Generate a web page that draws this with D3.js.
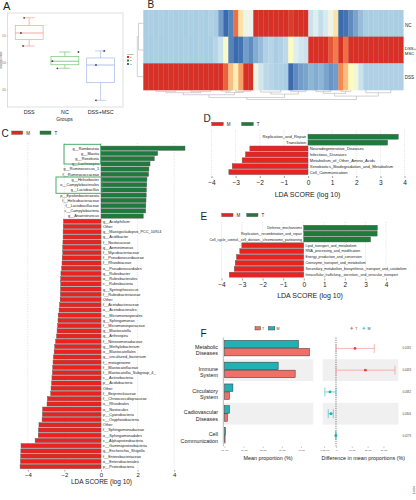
<!DOCTYPE html>
<html><head><meta charset="utf-8">
<script src="https://cdn.jsdelivr.net/npm/d3@7"></script>
<style>body{margin:0;background:#fff}svg{display:block;font-family:"Liberation Sans",Arial,sans-serif}</style>
</head><body><svg id="c" width="416" height="500"></svg>
<script>
// ================= DATA =================
// Panel A – alpha diversity per group
const groupsA = ["DSS","NC","DSS+MSC"];
const alphaDSS = [5.83, 5.55, 5.31];
const alphaNC  = [5.20, 5.03, 4.90];
const alphaMSC = [5.22, 4.96, 4.31];
const jitterA  = [[-0.14,-0.23,-0.17],[0.38,-0.35,-0.21],[0.10,-0.13,-0.13]];
const alphaTicks = [5.5, 5.0, 4.5];

// Panel B – heatmap (z-scores per feature column)
const rowsB = ["NC","DSS+MSC","DSS"];
const heatNC = [-0.55,-0.52,-0.55,-0.53,-0.55,-0.52,-0.55,-0.54,-0.55,-0.52,-0.55,-0.53,-0.55,-0.5,-0.55,
  -0.85,-1.15,-1.0,0.75,0.3,0.0,-0.05,1.0,1.15,1.15,1.15,1.15,1.15,1.15,0.95,1.05,1.15,1.15,
  -0.3,-0.15,-0.35,-0.2,0.0,0.3,-1.15,-1.1,-0.95,-0.8,-0.65,-0.55,-0.55,-0.52,-0.55,-0.55,-0.53,-0.55,-0.55];
const heatMSC = [-0.55,-0.55,-0.53,-0.55,-0.55,-0.52,-0.55,-0.55,-0.53,-0.55,-0.55,-0.52,-0.55,-0.55,-0.45,
  -0.3,0.15,-1.0,-1.15,-1.1,-0.85,-0.95,-0.75,-0.65,-0.5,-0.45,-0.55,-0.5,-0.4,0.2,-0.15,-0.25,-0.3,
  1.15,1.15,1.1,1.0,0.85,0.7,1.05,0.75,1.1,1.15,1.15,1.15,1.15,1.15,1.15,1.15,1.15,1.15,1.15];
const heatDSS = [1.15,1.15,1.15,1.15,1.15,1.15,1.15,1.15,1.15,1.15,1.15,1.15,1.15,1.15,1.15,
  1.05,0.8,0.45,0.25,0.55,1.15,1.15,0.0,-0.25,-0.4,-0.45,-0.5,-0.5,-0.55,-1.15,-0.95,-0.85,-0.8,
  -0.7,-0.75,-0.7,-0.8,-0.9,-0.85,0.65,0.45,0.2,0.05,-0.3,-0.5,-0.5,-0.5,-0.5,-0.5,-0.5,-0.5,-0.5];
const rowTree = [1.5, [1.2, 0, 1], 2];
const colTree = [7.0,
  [5.5,
    [3.5, [2.0, [1.0, 2, 6], [1.2, 9, 13]], [1.8, [0.8, 15, 17], [1.0, 18, 21]]],
    [3.0, [1.5, 23, 27], [1.2, 29, 32]]],
  [4.5,
    [2.5, [1.2, 34, 37], [1.0, 39, 41]],
    [2.0, 44, 49]]];
const groupLegend = ["D","N","M"];

// Panel C – LEfSe taxa
const taxaT = ["g__Romboutsia","g__Blautia","g__Roseburia","g__Lachnospira","g__Ruminococcus_1",
  "f__Ruminococcaceae","g__Helicobacter","o__Campylobacterales","g__Lactobacillus","p__Epsilonbacteraeota",
  "f__Helicobacteraceae","f__Lactobacillaceae","c__Campylobacteria","g__Anaerotruncus"];
const ldaT = [4.59,3.10,2.91,2.68,2.62,2.60,2.51,2.50,2.48,2.47,2.46,2.45,2.44,2.31];
const taxaM = ["g__Acidiphilium","Other","g__Mastigocladopsis_PCC_10914","g__Acidibacter","f__Nostocaceae",
  "g__Aeminiimonas","f__Mycobacteriaceae","f__Pseudonocardiaceae","f__Rhizobiaceae","o__Pseudonocardiales",
  "g__Rubrobacter","o__Rubrobacterales","c__Rubrobacteria","g__Syntrophococcus","f__Rubrobacteriaceae",
  "Other","f__Acetobacteraceae","o__Acetobacterales","o__Micromonosporales","g__Sphingomonas",
  "f__Micromonosporaceae","g__Blastocatella","g__Arthrospira","f__Nitrosomonadaceae","g__Methylobacterium",
  "o__Blastocatellales","g__uncultured_bacterium","f__metagenome","f__Blastocatellaceae","f__Blastocatellia_Subgroup_4_",
  "c__Actinobacteria","p__Acidobacteria","Other","f__Beijerinckiaceae","f__Chroococcidiopsaceae",
  "o__Rhizobiales","o__Nostocales","p__Cyanobacteria","c__Oxyphotobacteria","Other",
  "f__Sphingomonadaceae","o__Sphingomonadales","c__Alphaproteobacteria","c__Gammaproteobacteria","g__Escherichia_Shigella",
  "f__Enterobacteriaceae","o__Enterobacteriales","p__Proteobacteria"];
const ldaM = [-2.05,-2.06,-2.07,-2.07,-2.08,-2.09,-2.09,-2.12,-2.13,-2.15,
  -2.19,-2.20,-2.20,-2.21,-2.22,-2.23,-2.26,-2.29,-2.34,-2.35,
  -2.37,-2.40,-2.43,-2.48,-2.53,-2.56,-2.60,-2.62,-2.64,-2.65,
  -2.68,-2.70,-2.73,-2.75,-2.93,-2.95,-3.19,-3.20,-3.22,-3.39,
  -3.42,-3.43,-3.60,-4.37,-4.38,-4.39,-4.40,-4.42];
const ldaTicksC = [-4,-2,0,2,4];

// Panel D – KEGG LEfSe
const featD = ["Replication_and_Repair","Translation","Neurodegenerative_Diseases","Infectious_Diseases",
  "Metabolism_of_Other_Amino_Acids","Xenobiotics_Biodegradation_and_Metabolism","Cell_Communication"];
const ldaD = [3.74,3.30,-2.41,-2.59,-2.73,-3.14,-3.28];
// Panel E – COG LEfSe
const featE = ["Defense_mechanisms","Replication,_recombination_and_repair",
  "Cell_cycle_control,_cell_division,_chromosome_partitioning","Lipid_transport_and_metabolism",
  "RNA_processing_and_modification","Energy_production_and_conversion","Coenzyme_transport_and_metabolism",
  "Secondary_metabolites_biosynthesis,_transport_and_catabolism",
  "Intracellular_trafficking,_secretion,_and_vesicular_transport"];
const ldaE = [3.58,3.57,3.25,-3.01,-3.11,-3.27,-3.33,-3.38,-3.62];
const ldaTicksDE = [-4,-3,-2,-1,0,1,2,3,4];

// Panel F – extended error bar
const pathF = [["Metabolic","Diseases"],["Immune","System"],["Circulatory","System"],["Cadiovascular","Diseases"],["Cell","Communication"]];
const meanT = [4.45,3.70,0.26,0.15,0.03];
const meanM = [3.87,2.81,0.44,0.26,0.05];
const diffEst = [1.20,1.86,-0.38,-0.32,-0.01];
const diffLo  = [0.00,0.00,-0.70,-0.49,-0.03];
const diffHi  = [2.42,3.73,0.00,-0.17,0.01];
const pVals = ["0.0182","0.0433","0.0382","0.0306","0.0279"];
const meanTicks = [0,1,2,3,4];
const meanTickLabels = ["0e+00","1e-05","2e-05","3e-05","4e-05"];
const diffTicks = [-0.75,0,1,2,3];
const diffTickLabels = ["-7.5e-06","0","1e-05","2e-05","3e-05"];

// ================= DRAW =================
const FONT = '"Liberation Sans", Arial, sans-serif';
const RED = "#ea2320", GREEN = "#1d7b3b";
const svg = d3.select("#c");
function txt(g,t,x,y,fs,anchor,fill){
  return g.append("text").attr("x",x).attr("y",y).attr("font-size",fs)
    .attr("text-anchor",anchor||"start").attr("fill",fill||"#222").text(t);
}
// panel letters
txt(svg,"A",3,10,11); txt(svg,"B",147.5,8,10); txt(svg,"C",1.5,137,10);
txt(svg,"D",203.5,122,10); txt(svg,"E",200.5,220,10); txt(svg,"F",200.5,337,10);

// ---------- Panel A ----------
(function(){
  const g = svg.append("g");
  g.append("rect").attr("x",7.5).attr("y",13).attr("width",115.5).attr("height",94)
    .attr("fill","none").attr("stroke","#c9c9c9").attr("stroke-width",0.6);
  const x = d3.scaleBand().domain(groupsA).range([11.3,118.5]);
  const y = d3.scaleLinear().domain([4.5,5.5]).range([90,35.7]);
  const series = [alphaDSS, alphaNC, alphaMSC];
  const cols = ["#f5a19b","#74c774","#a6bae6"];
  const bw = x.bandwidth()*0.78;
  groupsA.forEach((gr,i)=>{
    const s = series[i].slice().sort(d3.ascending);
    const q1 = d3.quantile(s,0.25), md = d3.quantile(s,0.5), q3 = d3.quantile(s,0.75);
    const lo = s[0], hi = s[s.length-1];
    const cx = x(gr)+x.bandwidth()/2;
    const c = cols[i];
    g.append("line").attr("x1",cx).attr("x2",cx).attr("y1",y(hi)).attr("y2",y(lo)).attr("stroke",c).attr("stroke-width",0.7);
    [hi,lo].forEach(v=>g.append("line").attr("x1",cx-bw*0.2).attr("x2",cx+bw*0.2).attr("y1",y(v)).attr("y2",y(v)).attr("stroke",c).attr("stroke-width",0.7));
    g.append("rect").attr("x",cx-bw/2).attr("width",bw).attr("y",y(q3)).attr("height",y(q1)-y(q3))
      .attr("fill","#fff").attr("stroke",c).attr("stroke-width",0.7);
    g.append("line").attr("x1",cx-bw/2).attr("x2",cx+bw/2).attr("y1",y(md)).attr("y2",y(md)).attr("stroke",c).attr("stroke-width",0.9);
    series[i].forEach((v,j)=>g.append("circle").attr("cx",cx+jitterA[i][j]*x.bandwidth()).attr("cy",y(v)).attr("r",0.9).attr("fill","#444"));
    txt(g,gr,cx,114,5.3,"middle");
  });
  alphaTicks.forEach(t=>{
    g.append("line").attr("x1",6.3).attr("x2",7.5).attr("y1",y(t)).attr("y2",y(t)).attr("stroke","#999").attr("stroke-width",0.4);
    txt(g,t.toFixed(1),5.8,y(t)+0.9,2.6,"end","#555");
  });
  g.append("text").attr("transform","translate(2,60) rotate(-90)").attr("font-size",2.6).attr("text-anchor","middle").attr("fill","#555").text("Shannon index");
  txt(g,"Groups",64.5,121,5,"middle");
})();

// ---------- Panel B ----------
(function(){
  const g = svg.append("g");
  const nCol = heatNC.length;
  const x = d3.scaleBand().domain(d3.range(nCol)).range([143.3,403.3]);
  const y = d3.scaleBand().domain(rowsB).range([10,90]);
  const color = d3.scaleLinear().domain([-1.15,-0.55,-0.1,0.2,0.65,1.0])
    .range(["#3b6aae","#a9cde3","#e6f2f3","#fdfbc0","#f5894f","#d63027"]).clamp(true);
  const mat = [heatNC, heatMSC, heatDSS];
  rowsB.forEach((r,ri)=>{
    g.selectAll(null).data(mat[ri]).join("rect")
      .attr("x",(d,i)=>x(i)).attr("y",y(r)).attr("width",x.bandwidth()+0.3).attr("height",y.bandwidth()+0.3)
      .attr("fill",d=>color(d));
  });
  // row labels
  txt(g,"NC",405,27,4.5);
  txt(g,"DSS+",404.8,49.5,4.3); txt(g,"MSC",404.8,55.3,4.3);
  txt(g,"DSS",404.8,79,4.5);
  // dendrograms
  const lc = "#9a9a9a";
  function drawTree(node, pos, hp, orient){
    if(typeof node === "number") return {p: pos(node), h: 0};
    const a = drawTree(node[1],pos,hp,orient), b = drawTree(node[2],pos,hp,orient);
    const h = node[0];
    const path = orient==="col"
      ? `M${a.p},${hp(a.h)}V${hp(h)}H${b.p}V${hp(b.h)}`
      : `M${hp(a.h)},${a.p}H${hp(h)}V${b.p}H${hp(b.h)}`;
    g.append("path").attr("d",path).attr("fill","none").attr("stroke",lc).attr("stroke-width",0.45);
    return {p:(a.p+b.p)/2, h:h};
  }
  drawTree(colTree, i=>x(i)+x.bandwidth()/2, d3.scaleLinear().domain([0,7]).range([90,99.5]), "col");
  drawTree(rowTree, i=>y(rowsB[i])+y.bandwidth()/2, d3.scaleLinear().domain([0,1.5]).range([143.3,137.3]), "row");
  // group legend
  txt(g,"Group",127,54.5,2.4,"start","#444");
  ["#d63027","#2a8a2a","#3b6aae"].forEach((c,i)=>{
    g.append("rect").attr("x",127).attr("y",56+i*3.5).attr("width",2).attr("height",2).attr("fill",c);
    txt(g,groupLegend[i],130,57.8+i*3.5,2.2,"start","#444");
  });
  g.append("line").attr("x1",205).attr("x2",207.5).attr("y1",114.5).attr("y2",114.5).attr("stroke","#999").attr("stroke-width",0.5);
})();

// ---------- LDA panels helper ----------
function ldaPanel(o){
  const g = svg.append("g");
  const x = d3.scaleLinear().domain([-4,4]).range(o.xr);
  const y = d3.scaleBand().domain(d3.range(o.labels.length)).range(o.yr).paddingInner(o.pad).paddingOuter(o.pad/2);
  g.selectAll(null).data(o.ticks).join("line")
    .attr("x1",d=>x(d)).attr("x2",d=>x(d)).attr("y1",o.gridTop).attr("y2",o.axisY)
    .attr("stroke","#c2c2c2").attr("stroke-width",0.5).attr("stroke-dasharray","1,1.3");
  g.selectAll(null).data(o.values).join("rect")
    .attr("x",d=>x(Math.min(0,d))).attr("width",d=>Math.abs(x(d)-x(0)))
    .attr("y",(d,i)=>y(i)).attr("height",y.bandwidth())
    .attr("fill",d=>d>0?GREEN:RED).attr("stroke","#5e5e5e").attr("stroke-width",0.45);
  g.selectAll(null).data(o.labels).join("text")
    .attr("x",(d,i)=>o.values[i]>0? x(0)-o.lgap : x(0)+o.lgap)
    .attr("y",(d,i)=>y(i)+y.bandwidth()/2).attr("dy","0.36em")
    .attr("text-anchor",(d,i)=>o.values[i]>0?"end":"start")
    .attr("font-size",o.fs).attr("fill","#222").text(d=>d);
  const ax = d3.axisBottom(x).tickValues(o.ticks).tickSize(o.tickSize).tickPadding(o.tickPad);
  const ag = g.append("g").attr("transform",`translate(0,${o.axisY})`).call(ax);
  ag.attr("font-family",FONT);
  ag.select(".domain").remove();
  ag.selectAll("text").attr("font-size",o.tfs).attr("fill","#222");
  ag.selectAll("line").attr("stroke","#444").attr("stroke-width",0.5);
  txt(g,"LDA SCORE (log 10)",o.titleX,o.titleY,o.titleFs,"middle");
  // legend
  g.append("rect").attr("x",o.leg[0]).attr("y",o.leg[1]).attr("width",o.leg[2]).attr("height",3.4).attr("fill",RED).attr("stroke","#555").attr("stroke-width",0.4);
  txt(g,"M",o.leg[0]+o.leg[2]+3.5,o.leg[1]+3.5,4.5);
  g.append("rect").attr("x",o.leg[3]).attr("y",o.leg[1]).attr("width",o.leg[2]).attr("height",3.4).attr("fill",GREEN).attr("stroke","#555").attr("stroke-width",0.4);
  txt(g,"T",o.leg[3]+o.leg[2]+3.5,o.leg[1]+3.5,4.5);
  return g;
}

// ---------- Panel C ----------
const gC = ldaPanel({labels: taxaT.concat(taxaM), values: ldaT.concat(ldaM), ticks: ldaTicksC,
  xr:[27.8,174.2], yr:[145.6,469.2], pad:0.18, gridTop:143, axisY:470, tickSize:1.5, tickPad:1,
  tfs:6, titleX:101.5, titleY:484, titleFs:6.5, fs:3.8, lgap:2, leg:[11.7,131,11,40]});
gC.append("rect").attr("x",64).attr("y",144.3).attr("width",36.7).attr("height",19.7).attr("fill","none").attr("stroke","#3ba35e").attr("stroke-width",0.9);
gC.append("rect").attr("x",56).attr("y",177).attr("width",46).attr("height",16.3).attr("fill","none").attr("stroke","#3ba35e").attr("stroke-width",0.9);

// ---------- Panel D ----------
ldaPanel({labels: featD, values: ldaD, ticks: ldaTicksDE,
  xr:[211.5,404.5], yr:[133.75,175.05], pad:0.15, gridTop:130, axisY:176, tickSize:2, tickPad:2,
  tfs:6.5, titleX:307.5, titleY:196.5, titleFs:7, fs:4.1, lgap:1.8, leg:[211.7,122.3,11.6,241.7]});

// ---------- Panel E ----------
ldaPanel({labels: featE, values: ldaE, ticks: ldaTicksDE,
  xr:[221.5,386], yr:[224.8,277.6], pad:0.15, gridTop:222, axisY:278.5, tickSize:2, tickPad:2,
  tfs:6.5, titleX:310, titleY:298, titleFs:7, fs:3.5, lgap:1.8, leg:[221.7,213.3,11.3,246.7]});

// ---------- Panel F ----------
(function(){
  const g = svg.append("g");
  const SAL = "#f07068", TEAL = "#22b1b3";
  const xF = d3.scaleLinear().domain([0,4]).range([224.5,300.9]);
  const xG = d3.scaleLinear().domain([-0.84,3.94]).range([322.7,398.3]);
  const y = d3.scaleBand().domain(d3.range(pathF.length)).range([337.5,446.4]);
  // band backgrounds
  d3.range(pathF.length).filter(i=>i%2===1).forEach(i=>{
    g.append("rect").attr("x",223.3).attr("y",y(i)).attr("width",90).attr("height",y.bandwidth()).attr("fill","#f0f0f0");
    g.append("rect").attr("x",322.7).attr("y",y(i)).attr("width",75.6).attr("height",y.bandwidth()).attr("fill","#f0f0f0");
  });
  // left axis line
  g.append("line").attr("x1",223.3).attr("x2",223.3).attr("y1",337.5).attr("y2",446.4).attr("stroke","#777").attr("stroke-width",0.5);
  // bars
  g.selectAll(null).data(meanM).join("rect")
    .attr("x",xF(0)).attr("width",d=>xF(d)-xF(0)).attr("y",(d,i)=>y(i)+y.bandwidth()/2-8).attr("height",7.5)
    .attr("fill",TEAL).attr("stroke","#333").attr("stroke-width",0.5);
  g.selectAll(null).data(meanT).join("rect")
    .attr("x",xF(0)).attr("width",d=>xF(d)-xF(0)).attr("y",(d,i)=>y(i)+y.bandwidth()/2).attr("height",7.5)
    .attr("fill",SAL).attr("stroke","#333").attr("stroke-width",0.5);
  // row labels
  pathF.forEach((p,i)=>{
    const c = y(i)+y.bandwidth()/2;
    txt(g,p[0],218,c+0.6,5.4,"end"); txt(g,p[1],218,c+7,5.4,"end");
  });
  // axes
  const ax1 = g.append("g").attr("transform","translate(0,446.6)").call(d3.axisBottom(xF).tickValues(meanTicks).tickSize(1.2).tickPadding(1).tickFormat((d,i)=>meanTickLabels[i]));
  const ax2 = g.append("g").attr("transform","translate(0,446.6)").call(d3.axisBottom(xG).tickValues(diffTicks).tickSize(1.2).tickPadding(1).tickFormat((d,i)=>diffTickLabels[i]));
  [ax1,ax2].forEach(a=>{ a.attr("font-family",FONT); a.select(".domain").remove();
    a.selectAll("text").attr("font-size",2.5).attr("fill","#444"); a.selectAll("line").attr("stroke","#555").attr("stroke-width",0.4); });
  txt(g,"Mean proportion (%)",268,460,5.4,"middle");
  txt(g,"Difference in mean proportions (%)",363.3,460,5.4,"middle");
  // zero line
  g.append("line").attr("x1",xG(0)).attr("x2",xG(0)).attr("y1",337.5).attr("y2",446.4).attr("stroke","#333").attr("stroke-width",0.6).attr("stroke-dasharray","1.2,1");
  // error bars
  diffEst.forEach((d,i)=>{
    const c = y(i)+y.bandwidth()/2;
    const pos = d>0;
    const lc = pos ? "#f4a29b" : "#5cc6c6";
    const pc = pos ? "#e8463c" : "#20aeb0";
    g.append("line").attr("x1",xG(diffLo[i])).attr("x2",xG(diffHi[i])).attr("y1",c).attr("y2",c).attr("stroke",lc).attr("stroke-width",0.8);
    [diffLo[i],diffHi[i]].forEach(v=>g.append("line").attr("x1",xG(v)).attr("x2",xG(v)).attr("y1",c-4.5).attr("y2",c+4.5).attr("stroke",lc).attr("stroke-width",0.8));
    g.append("circle").attr("cx",xG(d)).attr("cy",c).attr("r",1.4).attr("fill",pc);
    txt(g,pVals[i],406.7,c+1,2.8,"middle","#444");
  });
  g.append("text").attr("transform","translate(414.5,490) rotate(-90)").attr("font-size",2.6).attr("text-anchor","middle").attr("fill","#555").text("p-value");
  // legends
  g.append("rect").attr("x",255).attr("y",326.6).attr("width",5.5).attr("height",3.4).attr("fill",SAL).attr("stroke","#333").attr("stroke-width",0.4);
  txt(g,"T",262,329.9,3.6,"start","#444");
  g.append("rect").attr("x",268.3).attr("y",326.6).attr("width",6.5).attr("height",3.4).attr("fill",TEAL).attr("stroke","#333").attr("stroke-width",0.4);
  txt(g,"M",276.5,329.9,3.6,"start","#444");
  [[351.7,"#e8463c","T"],[364,"#20aeb0","M"]].forEach(([px,c,t])=>{
    g.append("path").attr("d",`M${px-1.6},328.3H${px+1.6}M${px},326.7V329.9`).attr("stroke",c).attr("stroke-width",0.6);
    txt(g,t,px+3.5,329.9,3.6,"start","#444");
  });
})();
</script></body></html>
